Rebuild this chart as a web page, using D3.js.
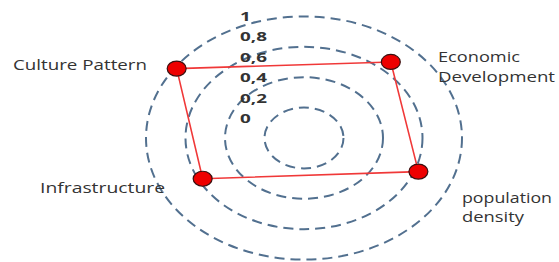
<!DOCTYPE html>
<html>
<head>
<meta charset="utf-8">
<script src="https://cdn.jsdelivr.net/npm/d3@7"></script>
<style>
  body { margin: 0; background: #fff; }
  text { font-family: "Open Sans", sans-serif; fill: #333; }
</style>
</head>
<body>
<script>
// Chart data
var categories = ["Culture Pattern", "Economic Development", "population density", "Infrastructure"];
var values = [0.79, 0.666, 0.62, 0.579];
var angles = [305.3, 41.3, 110.9, 242.4];   // degrees, clockwise from top
var gridLevels = [0.2, 0.4, 0.6, 0.8];
var tickLabels = ["0", "0,2", "0,4", "0,6", "0,8", "1"];
var tickValues = [0, 0.2, 0.4, 0.6, 0.8, 1];

// Sets width and height of SVG object
var w = 559;
var h = 262;
var cx = 304;
var cy = 138;

var rx = d3.scaleLinear().domain([0, 1]).range([0, 197.5]);
var ry = d3.scaleLinear().domain([0, 1]).range([0, 152]);
var tickY = d3.scaleLinear().domain([0, 1]).range([123, 21]);

var svg = d3.select("body").append("svg").attr("width", w).attr("height", h);

// dashed grid ellipses
svg.selectAll("ellipse.grid").data(gridLevels).enter().append("ellipse")
  .attr("class", "grid")
  .attr("cx", cx)
  .attr("cy", cy)
  .attr("rx", function(d){ return rx(d); })
  .attr("ry", function(d){ return ry(d); })
  .attr("fill", "none")
  .attr("stroke", "#52708f")
  .attr("stroke-width", 2)
  .attr("stroke-dasharray", "10,6");

// tick labels (stretched horizontally like the original)
svg.selectAll("text.tick").data(tickValues).enter().append("text")
  .attr("class", "tick")
  .attr("transform", function(d){ return "translate(240," + tickY(d) + ") scale(1.45,1)"; })
  .attr("font-size", 13)
  .attr("font-weight", "bold")
  .text(function(d, i){ return tickLabels[i]; });

var pts = values.map(function(v, i) {
  var a = angles[i] * Math.PI / 180;
  return [cx + rx(v) * Math.sin(a), cy - ry(v) * Math.cos(a)];
});

svg.append("path")
  .attr("d", d3.line().curve(d3.curveLinearClosed)(pts))
  .attr("fill", "none")
  .attr("stroke", "#f03838")
  .attr("stroke-width", 1.6);

svg.selectAll("ellipse.dot").data(pts).enter().append("ellipse")
  .attr("class", "dot")
  .attr("cx", function(d){ return d[0]; })
  .attr("cy", function(d){ return d[1]; })
  .attr("rx", 9.5)
  .attr("ry", 7.5)
  .attr("fill", "#ee0000")
  .attr("stroke", "#3a1010")
  .attr("stroke-width", 1.2);

// category labels: [text, x, baseline, width] per line
var labelLines = [
  [["Culture Pattern", 13, 70, 134]],
  [["Economic", 438, 62, 82], ["Development", 438, 82, 117]],
  [["population", 462, 203, 90], ["density", 462, 222, 62]],
  [["Infrastructure", 40, 193, 125]]
];
labelLines.forEach(function(lines) {
  lines.forEach(function(l) {
    svg.append("text")
      .attr("x", l[1])
      .attr("y", l[2])
      .attr("font-size", 14)
      .attr("textLength", l[3])
      .attr("lengthAdjust", "spacingAndGlyphs")
      .text(l[0]);
  });
});
</script>
</body>
</html>
